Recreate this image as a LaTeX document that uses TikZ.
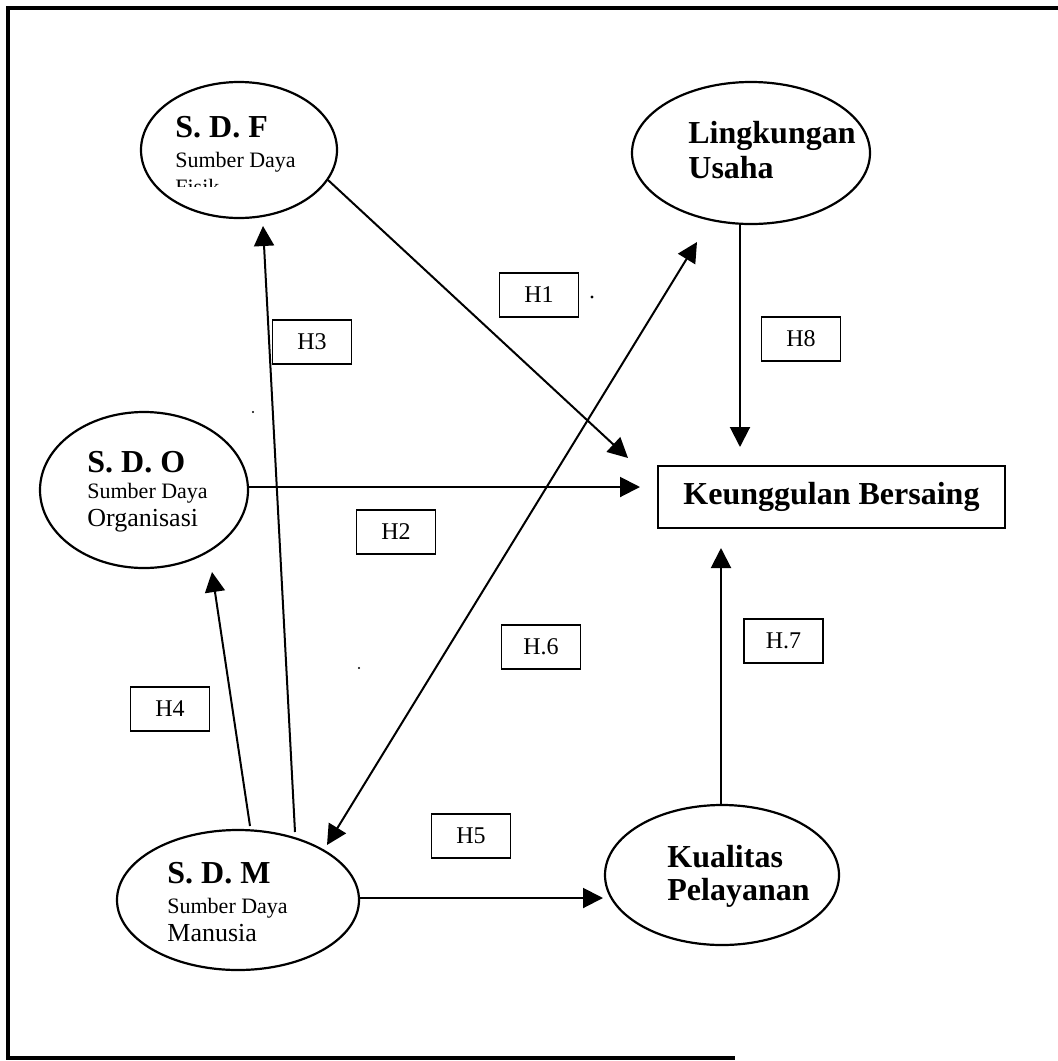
\documentclass[tikz,border=0pt]{standalone}
\usepackage{fontspec}
\setmainfont{Liberation Serif}
\usetikzlibrary{shapes.geometric,arrows.meta}
\begin{document}
\begin{tikzpicture}[x=0.5pt,y=-0.5pt,
  ell/.style={draw,ellipse,line width=1.1pt,inner sep=0pt},
  hbox/.style={draw,line width=0.9pt,minimum width=39.5pt,minimum height=22pt,inner sep=0pt,font=\fontsize{12}{14}\selectfont},
  arr/.style={line width=1pt,-{Triangle[length=10pt,width=10pt]}},
  dbl/.style={line width=1pt,{Triangle[length=10pt,width=10pt]}-{Triangle[length=10pt,width=10pt]}},
  plainline/.style={line width=1pt},
  bigtxt/.style={font=\fontsize{16}{18}\selectfont\bfseries,inner sep=0pt,anchor=base west},
  smalltxt/.style={font=\fontsize{11}{13}\selectfont,inner sep=0pt,anchor=base west},
  midtxt/.style={font=\fontsize{13}{15}\selectfont,inner sep=0pt,anchor=base west},
  speck/.style={fill=black}
]
\useasboundingbox (0,0) rectangle (1057,1061);
\fill[white] (0,0) rectangle (1057,1061);
% frame
\draw[line width=2pt] (1062,8) -- (8,8) -- (8,1058) -- (735,1058);

% ellipses
\node[ell,minimum width=98pt,minimum height=68pt] (sdf) at (239,150) {};
\node[ell,minimum width=119pt,minimum height=71pt] (lu) at (751,153) {};
\node[ell,minimum width=104pt,minimum height=78pt] (sdo) at (144,490) {};
\node[ell,minimum width=121pt,minimum height=70pt] (sdm) at (238,900) {};
\node[ell,minimum width=117pt,minimum height=70pt] (kp) at (722,875) {};
\node[draw,line width=1.1pt,minimum width=173.5pt,minimum height=31pt,inner sep=0pt,
      font=\fontsize{16}{18}\selectfont\bfseries] (kb) at (831.5,497) {Keunggulan Bersaing};

% texts in ellipses
\node[bigtxt] (sdft) at (175,137) {S. D. F};
\node[smalltxt] (sdfs) at (175,167) {Sumber Daya};
\begin{scope}
  \clip (140,150) rectangle (340,186);
  \node[smalltxt] (sdff) at (175,194) {Fisik};
\end{scope}
\node[bigtxt] (lut1) at (688,143) {Lingkungan};
\node[bigtxt] (lut2) at (688,178) {Usaha};
\node[bigtxt] (sdot) at (87,472) {S. D. O};
\node[smalltxt] (sdos) at (87,498) {Sumber Daya};
\node[midtxt] (sdoo) at (87,526) {Organisasi};
\node[bigtxt] (sdmt) at (167,883) {S. D. M};
\node[smalltxt] (sdms) at (167,913) {Sumber Daya};
\node[midtxt] (sdmm) at (167,941) {Manusia};
\node[bigtxt] (kpt1) at (667,867) {Kualitas};
\node[bigtxt] (kpt2) at (667,900) {Pelayanan};

% connector end points
\coordinate (h1s) at (328,180);
\coordinate (h1e) at (628,458);
\coordinate (h2s) at (248,487);
\coordinate (h2e) at (640,487);
\coordinate (h3s) at (295,832);
\coordinate (h3e) at (263,226);
\coordinate (h4s) at (250,826);
\coordinate (h4e) at (212,572);
\coordinate (h5s) at (360,898);
\coordinate (h5e) at (603,898);
\coordinate (h6a) at (327,845);
\coordinate (h6b) at (697,242);
\coordinate (h7s) at (721,805);
\coordinate (h7e) at (721,548);
\coordinate (h8s) at (740,225);
\coordinate (h8e) at (740,447);

% connectors
\draw[arr] (h1s) -- (h1e);
\draw[arr] (h2s) -- (h2e);
\draw[arr] (h3s) -- (h3e);
\draw[arr] (h4s) -- (h4e);
\draw[arr] (h5s) -- (h5e);
\draw[dbl] (h6a) -- (h6b);
\draw[arr] (h7s) -- (h7e);
\draw[arr] (h8s) -- (h8e);

% hypothesis labels
\node[hbox] (lh1) at (539,295) {H1};
\node[hbox] (lh8) at (801,339) {H8};
\node[hbox] (lh3) at (312,342) {H3};
\node[hbox] (lh2) at (396,532) {H2};
\node[hbox] (lh6) at (541,647) {H.6};
\node[hbox] (lh7) at (783.5,641) {H.7};
\node[hbox] (lh4) at (170,709) {H4};
\node[hbox] (lh5) at (471,836) {H5};

% specks
\fill[speck] (592,297) circle (0.8pt);
\fill[speck] (253,412) circle (0.6pt);
\fill[speck] (359,668) circle (0.6pt);
\end{tikzpicture}
\end{document}
